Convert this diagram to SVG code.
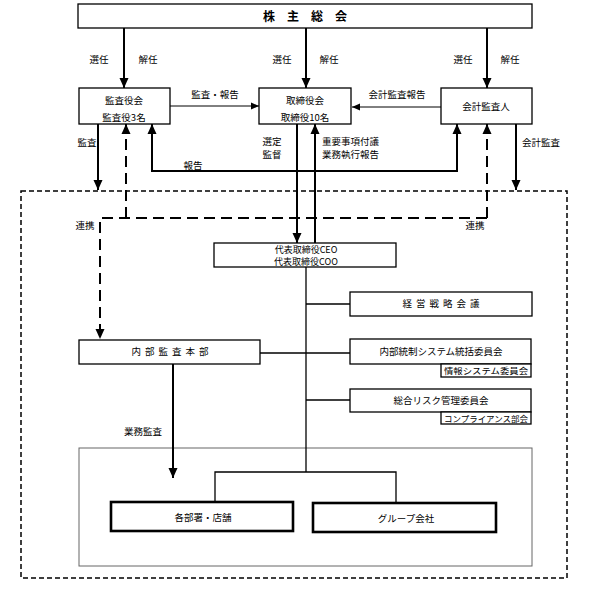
<svg xmlns="http://www.w3.org/2000/svg" width="589" height="599" viewBox="0 0 589 599">
<defs>
<style>
text{font-family:"Noto Sans CJK JP","Liberation Sans",sans-serif;font-size:9.5px;fill:#000;text-anchor:middle}
.box{fill:#fff;stroke:#000;stroke-width:1.3}
.thick{fill:#fff;stroke:#000;stroke-width:2.6}
.a2{fill:none;stroke:#000;stroke-width:2}
.a1{fill:none;stroke:#000;stroke-width:1}
.c{fill:none;stroke:#000;stroke-width:1.3}
.dl{fill:none;stroke:#000;stroke-width:2;stroke-dasharray:11 6}
.frame{fill:none;stroke:#000;stroke-width:1.5;stroke-dasharray:5 3}
.sp{letter-spacing:4px}
.sub{font-size:8.5px}
.ceo{font-size:9px}
</style>
<marker id="ah" viewBox="0 0 10 10" refX="10" refY="5" markerWidth="10" markerHeight="10" markerUnits="userSpaceOnUse" orient="auto"><path d="M0,0.5 L10,5 L0,9.5 z" fill="#000"/></marker>
<marker id="as" viewBox="0 0 10 10" refX="10" refY="5" markerWidth="9" markerHeight="8" markerUnits="userSpaceOnUse" orient="auto"><path d="M0,0.5 L10,5 L0,9.5 z" fill="#000"/></marker>
</defs>
<rect x="0" y="0" width="589" height="599" fill="#fff"/>

<rect class="frame" x="21" y="191" width="546" height="387"/>
<rect x="79" y="448" width="453" height="118" fill="none" stroke="#666" stroke-width="1"/>

<g id="connectors">
<path class="a2" d="M124,28 V88" marker-end="url(#ah)"/>
<path class="a2" d="M306,28 V88" marker-end="url(#ah)"/>
<path class="a2" d="M487,28 V88" marker-end="url(#ah)"/>
<path class="a1" d="M170,106 H259" marker-end="url(#as)"/>
<path class="a1" d="M441,107 H352" marker-end="url(#as)"/>
<path class="a2" d="M98,124 V190" marker-end="url(#ah)"/>
<path class="a2" d="M516,124 V190" marker-end="url(#ah)"/>
<path class="a2" d="M297,124 V243" marker-end="url(#ah)"/>
<path class="a2" d="M315,243 V124" marker-end="url(#ah)"/>
<path class="a2" d="M300,171 H152 V124" marker-end="url(#ah)"/>
<path class="a2" d="M300,171 H457 V124" marker-end="url(#ah)"/>
<path class="dl" d="M487,218 H100 V339" marker-end="url(#ah)"/>
<path class="dl" d="M126,218 V124" marker-end="url(#ah)"/>
<path class="dl" d="M487,218 V124" marker-end="url(#ah)"/>
<path class="c" d="M306,267 V472"/>
<path class="c" d="M306,304 H350"/>
<path class="c" d="M260,353 H350"/>
<path class="c" d="M306,400 H350"/>
<path class="c" d="M215,502 V472 H396 V503"/>
<path class="a2" d="M173,364 V478" marker-end="url(#ah)"/>
<text x="99" y="63">選任</text><text x="148" y="63">解任</text>
<text x="282" y="63">選任</text><text x="329" y="63">解任</text>
<text x="463" y="63">選任</text><text x="510" y="63">解任</text>
<text x="215" y="98">監査・報告</text>
<text x="397" y="98">会計監査報告</text>
<text x="87" y="146">監査</text>
<text x="272" y="145">選定</text>
<text x="272" y="158">監督</text>
<text x="322" y="145" style="text-anchor:start">重要事項付議</text>
<text x="322" y="158" style="text-anchor:start">業務執行報告</text>
<text x="541" y="146">会計監査</text>
<text x="193" y="169">報告</text>
<text x="85" y="229">連携</text>
<text x="475" y="229">連携</text>
<text x="143" y="435">業務監査</text>
</g>

<g id="n-shareholders"><rect class="box" x="78" y="4" width="454" height="24"/><text x="311" y="21" style="font-size:12px;font-weight:bold;letter-spacing:12px">株主総会</text></g>
<g id="n-auditors"><rect class="box" x="79" y="88" width="91" height="36"/><text x="124" y="104">監査役会</text><text x="124" y="120.5">監査役3名</text></g>
<g id="n-board"><rect class="box" x="259" y="88" width="92" height="36"/><text x="305" y="104">取締役会</text><text x="305" y="120.5">取締役10名</text></g>
<g id="n-accountant"><rect class="box" x="441" y="88" width="91" height="36"/><text x="486" y="110">会計監査人</text></g>
<g id="n-ceo"><rect class="box" x="214" y="243" width="182" height="24"/><text class="ceo" x="306" y="253">代表取締役CEO</text><text class="ceo" x="306" y="264.5">代表取締役COO</text></g>
<g id="n-strategy"><rect class="box" x="350" y="292" width="182" height="24"/><text class="sp" x="443" y="307">経営戦略会議</text></g>
<g id="n-internal-audit"><rect class="box" x="79" y="340" width="181" height="24"/><text class="sp" x="172" y="355">内部監査本部</text></g>
<g id="n-control"><rect class="box" x="350" y="339" width="181" height="25"/><text x="441" y="355">内部統制システム統括委員会</text></g>
<g id="n-info"><rect class="box" x="441" y="364" width="90" height="13"/><text class="sub" x="486" y="374" textLength="84" lengthAdjust="spacingAndGlyphs">情報システム委員会</text></g>
<g id="n-risk"><rect class="box" x="350" y="389" width="181" height="23"/><text x="441" y="404">総合リスク管理委員会</text></g>
<g id="n-compliance"><rect class="box" x="441" y="412" width="90" height="12"/><text class="sub" x="486" y="421.5" textLength="84" lengthAdjust="spacingAndGlyphs">コンプライアンス部会</text></g>
<g id="n-depts"><rect class="thick" x="111" y="502" width="182" height="29"/><text x="203" y="521">各部署・店舗</text></g>
<g id="n-group"><rect class="thick" x="313" y="503" width="183" height="29"/><text x="406" y="522">グループ会社</text></g>
</svg>
